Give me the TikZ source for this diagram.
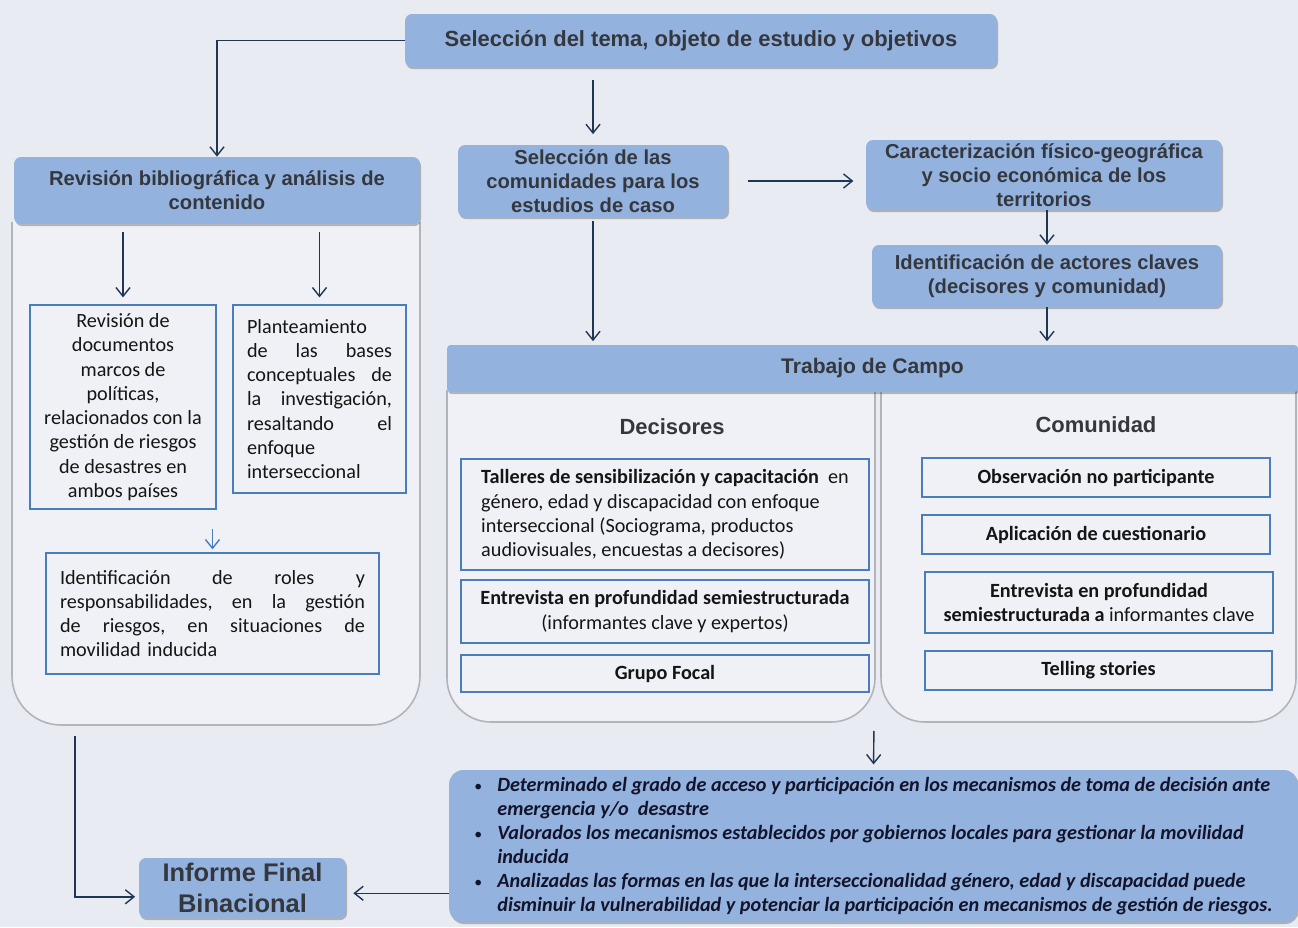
\documentclass[tikz,border=0pt]{standalone}
\usepackage{fontspec}
\setmainfont{Carlito}
\newfontfamily\encab{Liberation Sans}
\usetikzlibrary{arrows.meta,shadows}

\definecolor{fondo}{HTML}{E9EBF2}
\definecolor{azul}{HTML}{93B3DE}
\definecolor{panelc}{HTML}{F0F1F6}
\definecolor{panelb}{HTML}{B3B3BA}
\definecolor{bordeaz}{HTML}{4A7EBB}
\definecolor{flechac}{HTML}{1F3655}
\definecolor{tinta}{HTML}{35373F}
\definecolor{texto}{HTML}{151515}

\newcommand{\vineta}{\makebox[0.46cm][l]{\mdseries\upshape\fontsize{9}{9}\selectfont\textbullet}}
\newcommand{\sangria}{\hspace*{0.46cm}}

\tikzset{
  titulo/.style={fill=azul, rounded corners=4pt, text=tinta, align=center, inner sep=0pt,
    font=\encab\bfseries\fontsize{11.5}{13.5}\selectfont,
    drop shadow={shadow xshift=0.6pt, shadow yshift=-1.2pt, opacity=0.25, fill=black}},
  subtit/.style={text=tinta, font=\encab\bfseries\fontsize{12.5}{14}\selectfont},
  caja/.style={draw=bordeaz, line width=0.7pt, fill=panelc, text=texto, inner sep=0pt,
    font=\fontsize{11.5}{13.8}\selectfont},
  panel/.style={fill=panelc, draw=panelb, line width=0.9pt},
  flecha/.style={draw=flechac, line width=0.8pt, -{Straight Barb[length=5pt,width=8pt]}},
}

\begin{document}
\begin{tikzpicture}[x=0.02cm, y=-0.02cm]
\fill[fondo] (0,0) rectangle (1298,927);
\useasboundingbox (0,0) rectangle (1298,927);

\draw[panel, rounded corners=28pt] (12,222) -- (12,725) -- (420,725) -- (420,222);
\draw[panel, rounded corners=25pt] (447,390) -- (447,722) -- (875,722) -- (875,390);
\draw[panel, rounded corners=25pt] (881,390) -- (881,722) -- (1296,722) -- (1296,390);

\node (sel) at (701,40.5) [titulo, minimum width=11.84cm, minimum height=1.06cm, font=\encab\bfseries\fontsize{12.5}{14}\selectfont] {Selección del tema, objeto de estudio y objetivos};
\node (rev) at (217,190.5) [titulo, minimum width=8.12cm, minimum height=1.34cm] {Revisión bibliográfica y análisis de\\contenido};
\node (com) at (593,181) [titulo, minimum width=5.4cm, minimum height=1.44cm] {Selección de las\\comunidades para los\\estudios de caso};
\node (car) at (1044,175) [titulo, minimum width=7.12cm, minimum height=1.4cm] {Caracterización físico-geográfica\\y socio económica de los\\territorios};
\node (act) at (1047,276) [titulo, minimum width=7cm, minimum height=1.24cm] {Identificación de actores claves\\(decisores y comunidad)};
\node (trab) at (872.5,368.5) [titulo, rounded corners=2pt, minimum width=17.02cm, minimum height=0.94cm, font=\encab\bfseries\fontsize{12}{14}\selectfont] {Trabajo de Campo};

\node (docs) at (123,407) [caja, minimum width=3.72cm, minimum height=4.08cm, align=center] {Revisión de\\documentos\\marcos de\\políticas,\\relacionados con la\\gestión de riesgos\\de desastres en\\ambos países};
\node (plan) at (319.5,399) [caja, minimum width=3.46cm, minimum height=3.76cm, text width=2.9cm, align=left] {Planteamiento\\de\hfill las\hfill bases\\conceptuales\hfill de\\la\hfill investigación,\\resaltando\hfill el\\enfoque\\interseccional};
\node (roles) at (212.5,613.5) [caja, minimum width=6.66cm, minimum height=2.42cm, text width=6.1cm, align=left] {Identificación\hfill de\hfill roles\hfill y\\responsabilidades,\hfill en\hfill la\hfill gestión\\de\hfill riesgos,\hfill en\hfill situaciones\hfill de\\movilidad inducida};

\node (dec) at (672,427) [subtit] {Decisores};
\node (comu) at (1096,425) [subtit] {Comunidad};

\node (tall) at (665,514.5) [caja, minimum width=8.16cm, minimum height=2.22cm, align=left] {\textbf{Talleres de sensibilización y capacitación}\ \ en\\género, edad y discapacidad con enfoque\\interseccional (Sociograma, productos\\audiovisuales, encuestas a decisores)};
\node (entd) at (665,611.5) [caja, minimum width=8.16cm, minimum height=1.26cm, align=center] {\textbf{Entrevista en profundidad semiestructurada}\\(informantes clave y expertos)};
\node (grupo) at (665,673.5) [caja, minimum width=8.16cm, minimum height=0.74cm] {\textbf{Grupo Focal}};

\node (obs) at (1096,477.5) [caja, minimum width=6.96cm, minimum height=0.78cm] {\textbf{Observación no participante}};
\node (apl) at (1096,534.5) [caja, minimum width=6.96cm, minimum height=0.78cm] {\textbf{Aplicación de cuestionario}};
\node (entc) at (1099,602.5) [caja, minimum width=6.96cm, minimum height=1.22cm, align=center] {\textbf{Entrevista en profundidad}\\\textbf{semiestructurada a} informantes clave};
\node (tell) at (1098.5,670.5) [caja, minimum width=6.94cm, minimum height=0.78cm] {\textbf{Telling stories}};

\node (res) at (873.5,846) [titulo, rounded corners=8pt, minimum width=16.98cm, minimum height=3.04cm, align=left, text=texto!90!blue, font=\bfseries\itshape\fontsize{11.5}{13.6}\selectfont] {\vineta Determinado el grado de acceso y participación en los mecanismos de toma de decisión ante\\\sangria emergencia y/o\ \ desastre\\\vineta Valorados los mecanismos establecidos por gobiernos locales para gestionar la movilidad\\\sangria inducida\\\vineta Analizadas las formas en las que la interseccionalidad género, edad y discapacidad puede\\\sangria disminuir la vulnerabilidad y potenciar la participación en mecanismos de gestión de riesgos.};
\node (inf) at (242.5,888) [titulo, minimum width=4.14cm, minimum height=1.2cm, font=\encab\bfseries\fontsize{14.5}{17.5}\selectfont] {Informe Final\\Binacional};

\coordinate (campo) at (874,722);
\coordinate (revfin) at (75,725);

\draw[flecha] (sel.west) -| (rev.north);
\draw[flecha, shorten <=7pt, shorten >=6pt] (sel.south -| com.north) -- (com.north);
\draw[flecha, shorten <=11pt, shorten >=7pt] (com.east) -- (com.east -| car.west);
\draw[flecha] (act.north |- car.south) -- (act.north);
\draw[flecha, shorten >=2pt] (act.south) -- (act.south |- trab.north);
\draw[flecha, shorten <=2pt, shorten >=2pt] (com.south) -- (com.south |- trab.north);
\draw[flecha, shorten <=4.5pt, shorten >=4pt] (rev.south -| docs.north) -- (docs.north);
\draw[flecha, shorten <=4.5pt, shorten >=4pt] (rev.south -| plan.north) -- (plan.north);
\draw[flecha, draw=bordeaz, shorten <=10.8pt, shorten >=1.7pt] (roles.north |- docs.south) -- (roles.north);
\draw[flecha, shorten <=5pt, shorten >=3pt] (campo) -- (res.north);
\draw[flecha, shorten <=6pt, shorten >=2pt] (revfin) |- ([yshift=-5pt]inf.west);
\draw[flecha, shorten >=4pt] ([yshift=-3pt]inf.east -| res.west) -- ([yshift=-3pt]inf.east);
\end{tikzpicture}
\end{document}
